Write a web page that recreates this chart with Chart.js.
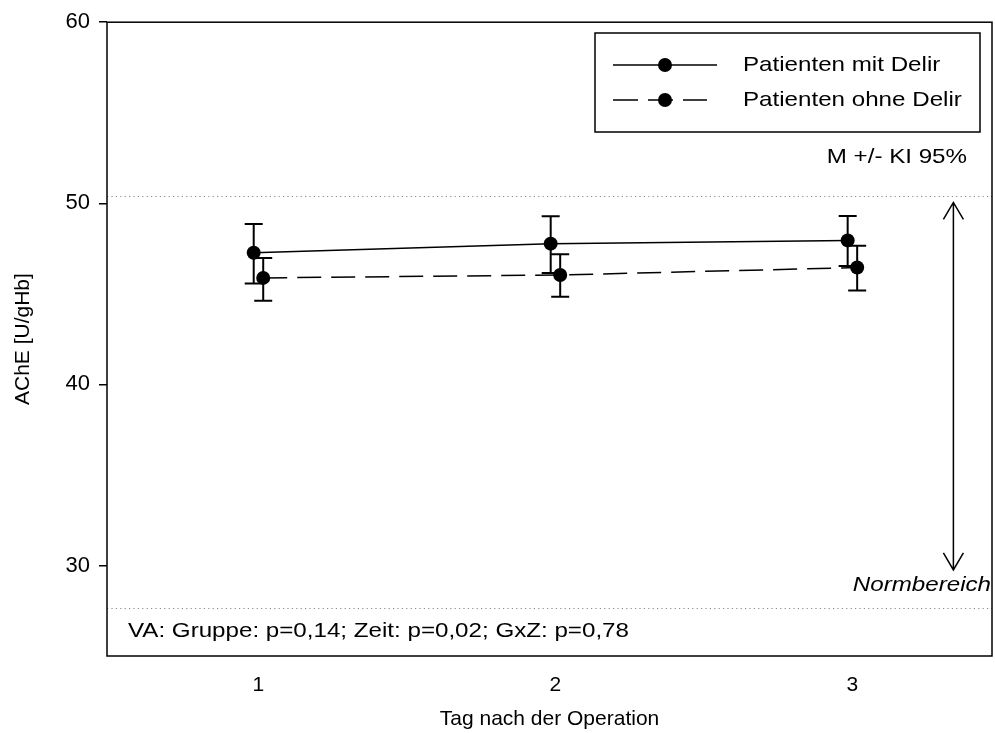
<!DOCTYPE html>
<html>
<head>
<meta charset="utf-8">
<script src="https://cdn.jsdelivr.net/npm/chart.js@4.4.1/dist/chart.umd.min.js"></script>
<style>
  body { margin: 0; background: #fff; }
  #wrap { width: 995px; height: 733px; position: relative; }
</style>
</head>
<body>
<div id="wrap"><canvas id="ache"></canvas></div>
<script>
// data
const days = [1, 2, 3];
const xTicks = [1, 2, 3];
const yTicks = [30, 40, 50, 60];
const mitMean = [47.27, 47.77, 47.95];
const mitLow = [45.57, 46.15, 46.54];
const mitHigh = [48.86, 49.29, 49.30];
const ohneMean = [45.88, 46.04, 46.45];
const ohneLow = [44.62, 44.84, 45.18];
const ohneHigh = [46.98, 47.18, 47.65];
const groupShift = 0.016;          // small side-by-side offset of the two groups
const normRange = [27.65, 50.4];   // dotted reference lines
const arrowRange = [29.75, 50.05]; // Normbereich arrow
const arrowDay = 3.34;

const FONT = '"Liberation Sans", Arial, sans-serif';
const STRETCH = 1.15;

function wideText(ctx, txt, x, y, align, font) {
    ctx.save();
    ctx.font = font;
    ctx.textBaseline = 'middle';
    ctx.textAlign = 'left';
    const w = ctx.measureText(txt).width * STRETCH;
    const left = align === 'right' ? x - w : align === 'center' ? x - w / 2 : x;
    ctx.translate(left, y);
    ctx.scale(STRETCH, 1);
    ctx.fillStyle = '#000';
    ctx.fillText(txt, 0, 0);
    ctx.restore();
}

const mitPts = days.map((d, i) => ({ x: d - groupShift, y: mitMean[i] }));
const ohnePts = days.map((d, i) => ({ x: d + groupShift, y: ohneMean[i] }));

const extras = {
    id: 'extras',
    beforeDatasetsDraw(chart) {
        const { ctx, chartArea: a, scales: { x, y } } = chart;
        ctx.save();
        // dotted norm lines
        ctx.strokeStyle = '#8a8a8a';
        ctx.lineWidth = 1;
        ctx.setLineDash([1.2, 3.2]);
        normRange.forEach(v => {
            const py = Math.round(y.getPixelForValue(v)) + 0.5;
            ctx.beginPath();
            ctx.moveTo(a.left, py);
            ctx.lineTo(a.right, py);
            ctx.stroke();
        });
        ctx.setLineDash([]);
        // error bars
        ctx.strokeStyle = '#000';
        ctx.lineWidth = 2;
        const bars = (lo, hi, shift) => {
            days.forEach((d, i) => {
                const px = x.getPixelForValue(d + shift);
                const p1 = y.getPixelForValue(lo[i]);
                const p2 = y.getPixelForValue(hi[i]);
                ctx.beginPath();
                ctx.moveTo(px, p1); ctx.lineTo(px, p2);
                ctx.moveTo(px - 9, p1); ctx.lineTo(px + 9, p1);
                ctx.moveTo(px - 9, p2); ctx.lineTo(px + 9, p2);
                ctx.stroke();
            });
        };
        bars(mitLow, mitHigh, -groupShift);
        bars(ohneLow, ohneHigh, groupShift);
        ctx.restore();
    },
    afterDraw(chart) {
        const { ctx, chartArea: a, scales: { x, y } } = chart;
        ctx.save();
        // frame
        ctx.strokeStyle = '#000';
        ctx.lineWidth = 1.5;
        ctx.strokeRect(a.left, a.top, a.right - a.left, a.bottom - a.top);

        // double arrow
        const ax = x.getPixelForValue(arrowDay);
        const top = y.getPixelForValue(arrowRange[1]);
        const bot = y.getPixelForValue(arrowRange[0]);
        ctx.lineWidth = 1.5;
        ctx.beginPath();
        ctx.moveTo(ax, top); ctx.lineTo(ax, bot);
        ctx.moveTo(ax - 10, top + 17); ctx.lineTo(ax, top); ctx.lineTo(ax + 10, top + 17);
        ctx.moveTo(ax - 10, bot - 17); ctx.lineTo(ax, bot); ctx.lineTo(ax + 10, bot - 17);
        ctx.stroke();

        // legend
        ctx.lineWidth = 1.5;
        ctx.strokeRect(595, 33, 385, 99);
        const rows = [{ y: 65, dash: [], end: 717, label: 'Patienten mit Delir' },
                      { y: 100, dash: [25, 10], end: 707, label: 'Patienten ohne Delir' }];
        rows.forEach(r => {
            ctx.setLineDash(r.dash);
            ctx.beginPath();
            ctx.moveTo(613, r.y); ctx.lineTo(r.end, r.y);
            ctx.stroke();
            ctx.setLineDash([]);
            ctx.beginPath();
            ctx.arc(665, r.y, 7, 0, Math.PI * 2);
            ctx.fillStyle = '#000';
            ctx.fill();
            wideText(ctx, r.label, 743, r.y, 'left', '21px ' + FONT);
        });

        wideText(ctx, 'M +/- KI 95%', 967, 157, 'right', '21px ' + FONT);
        wideText(ctx, 'Normbereich', 991, 585, 'right', 'italic 21px ' + FONT);
        wideText(ctx, 'VA: Gruppe: p=0,14; Zeit: p=0,02; GxZ: p=0,78', 128, 631, 'left', '21px ' + FONT);
        ctx.restore();
    }
};

new Chart(document.getElementById('ache'), {
    type: 'line',
    data: {
        datasets: [
            {
                label: 'Patienten mit Delir',
                data: mitPts,
                borderColor: '#000',
                backgroundColor: '#000',
                borderWidth: 1.5,
                pointRadius: 7,
                pointBackgroundColor: '#000',
                pointBorderWidth: 0
            },
            {
                label: 'Patienten ohne Delir',
                data: ohnePts,
                borderColor: '#000',
                backgroundColor: '#000',
                borderWidth: 1.5,
                borderDash: [24, 10],
                pointRadius: 7,
                pointBackgroundColor: '#000',
                pointBorderWidth: 0
            }
        ]
    },
    options: {
        responsive: true,
        maintainAspectRatio: false,
        animation: false,
        layout: { autoPadding: false, padding: { top: 20, right: 3, left: 0, bottom: 0 } },
        plugins: { legend: { display: false }, tooltip: { enabled: false } },
        scales: {
            x: {
                type: 'linear',
                min: 0.49,
                max: 3.47,
                afterBuildTicks: s => { s.ticks = xTicks.map(v => ({ value: v })); },
                afterFit: s => { s.height = 77; },
                grid: { display: false },
                border: { display: false },
                ticks: { color: '#000', font: { family: FONT, size: 21 }, padding: 9 },
                title: {
                    display: true,
                    text: 'Tag nach der Operation',
                    color: '#000',
                    font: { family: FONT, size: 21 },
                    padding: { top: 0, bottom: 1 }
                }
            },
            y: {
                min: 25,
                max: 60,
                afterBuildTicks: s => { s.ticks = yTicks.map(v => ({ value: v })); },
                afterFit: s => { s.width = 107; },
                grid: { drawOnChartArea: false, drawTicks: true, tickLength: 8, color: '#000', lineWidth: 1.5 },
                border: { display: false },
                ticks: { color: '#000', font: { family: FONT, size: 22 }, padding: 9 },
                title: {
                    display: true,
                    text: 'AChE [U/gHb]',
                    color: '#000',
                    font: { family: FONT, size: 21 },
                    padding: { top: 11, bottom: 0 }
                }
            }
        }
    },
    plugins: [extras]
});
</script>
</body>
</html>
